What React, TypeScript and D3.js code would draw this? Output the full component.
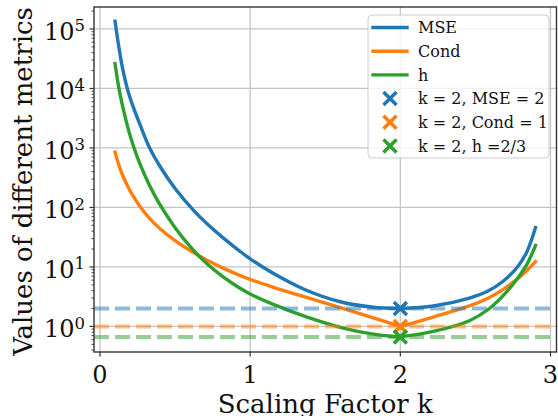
import * as d3 from "d3"

// scaling factor k, and what each metric reads off the chart
const kValues = [
  0.1, 0.125, 0.15, 0.19, 0.22, 0.27, 0.33, 0.4, 0.5, 0.62, 0.72, 0.82, 0.93,
  1.0, 1.15, 1.37, 1.6, 1.82, 2.0, 2.22, 2.46, 2.58, 2.68, 2.78, 2.84, 2.9,
]
const mseValues = [
  134900, 50700, 22000, 8360, 5000, 2340, 1007, 488, 208, 90.8, 51, 30.8, 18.5,
  13.7, 7.9, 4.1, 2.6, 2.1, 2.0, 2.21, 3.0, 3.9, 5.64, 10.0, 17.4, 45.7,
]
const condValues = [
  851, 519, 351, 213, 156, 101, 65.8, 44, 27.7, 17.6, 12.7, 9.55, 7.23, 6.17,
  4.6, 3.1, 2.08, 1.4, 1.0, 1.44, 2.21, 2.96, 4.13, 6.32, 8.57, 12.3,
]
const hValues = [
  26000, 10350, 5100, 1993, 1124, 508, 234, 110, 45.8, 19.4, 10.9, 6.82, 4.43,
  3.52, 2.37, 1.46, 0.968, 0.744, 0.667, 0.825, 1.25, 1.89, 3.21, 6.4, 10.7, 22.9,
]

const seriesNames = ["MSE", "Cond", "h"]
const seriesColors = ["#1f77b4", "#ff7f0e", "#2ca02c"]
const seriesValues = [mseValues, condValues, hValues]

const optimumK = 2
const optimumValues = [2, 1, 2 / 3]
const optimumLabels = ["k = 2, MSE = 2", "k = 2, Cond = 1", "k = 2, h =2/3"]

const xTicks = [0, 1, 2, 3]
const yTickExponents = [0, 1, 2, 3, 4, 5]

const width = 558
const height = 416
const plot = { left: 94, right: 556.5, top: 7, bottom: 352 }
const font = "'DejaVu Serif', serif"

// X marker as two crossing strokes
const Cross = ({ cx, cy, color, r = 6.5 }) => (
  <g stroke={color} strokeWidth={3.6}>
    <line x1={cx - r} y1={cy - r} x2={cx + r} y2={cy + r} />
    <line x1={cx - r} y1={cy + r} x2={cx + r} y2={cy - r} />
  </g>
)

export default function App() {
  const x = d3.scaleLinear().domain([-0.04, 3.04]).range([plot.left, plot.right])
  const y = d3
    .scaleLog()
    .domain([0.372, 234000])
    .range([plot.bottom, plot.top])

  const line = d3
    .line<[number, number]>()
    .x((d) => x(d[0]))
    .y((d) => y(d[1]))
    .curve(d3.curveCatmullRom.alpha(0.5))

  // Cond has a corner at k = 2, so each branch is drawn smooth and then joined
  const pathFor = (values) => {
    const pts = kValues.map((k, i) => [k, values[i]] as [number, number])
    const split = kValues.indexOf(optimumK)
    const left = line(pts.slice(0, split + 1))
    const right = line(pts.slice(split)).replace(/^M/, "L")
    return left + right
  }

  const minorTicks = []
  for (let e = -1; e <= 5; e++) {
    for (let m = 2; m <= 9; m++) {
      const v = m * Math.pow(10, e)
      if (v >= 0.372 && v <= 234000) minorTicks.push(v)
    }
  }

  const legendRows = [27.5, 51.2, 74.9, 98.6, 122.3, 146]

  return (
    <div style={{ position: "fixed", left: 0, top: 0 }}>
      <svg width={width} height={height} style={{ display: "block", fontFamily: font }}>
        <rect width={width} height={height} fill="#fff" />

        {/* grid */}
        <g stroke="#c4c4c4" strokeWidth={1.3}>
          {xTicks.map((t) => (
            <line key={t} x1={x(t)} x2={x(t)} y1={plot.top} y2={plot.bottom} />
          ))}
          {yTickExponents.map((e) => (
            <line
              key={e}
              x1={plot.left}
              x2={plot.right}
              y1={y(Math.pow(10, e))}
              y2={y(Math.pow(10, e))}
            />
          ))}
        </g>

        {/* curves */}
        {seriesValues.map((vals, i) => (
          <path
            key={seriesNames[i]}
            d={pathFor(vals)}
            fill="none"
            stroke={seriesColors[i]}
            strokeWidth={3.4}
            strokeLinecap="square"
            strokeLinejoin="round"
          />
        ))}

        {/* reference levels */}
        {optimumValues.map((v, i) => (
          <line
            key={i}
            x1={plot.left}
            x2={plot.right}
            y1={y(v)}
            y2={y(v)}
            stroke={seriesColors[i]}
            strokeOpacity={0.5}
            strokeWidth={4}
            strokeDasharray="15 6"
          />
        ))}

        {/* optimum markers */}
        {optimumValues.map((v, i) => (
          <Cross key={i} cx={x(optimumK)} cy={y(v)} color={seriesColors[i]} />
        ))}

        {/* spines */}
        <rect
          x={plot.left}
          y={plot.top}
          width={plot.right - plot.left}
          height={plot.bottom - plot.top}
          fill="none"
          stroke="#333"
          strokeWidth={1.4}
        />

        {/* x axis */}
        {xTicks.map((t) => (
          <g key={t}>
            <line x1={x(t)} x2={x(t)} y1={plot.bottom} y2={plot.bottom + 4.5} stroke="#333" strokeWidth={1.2} />
            <text x={x(t)} y={382.5} textAnchor="middle" fontSize={24} fill="#111">
              {t}
            </text>
          </g>
        ))}
        <text x={(plot.left + plot.right) / 2} y={413} textAnchor="middle" fontSize={26} fill="#111">
          Scaling Factor k
        </text>

        {/* y axis */}
        {minorTicks.map((v) => (
          <line key={v} x1={plot.left - 2.5} x2={plot.left} y1={y(v)} y2={y(v)} stroke="#333" strokeWidth={0.9} />
        ))}
        {yTickExponents.map((e) => (
          <g key={e}>
            <line
              x1={plot.left - 4.5}
              x2={plot.left}
              y1={y(Math.pow(10, e))}
              y2={y(Math.pow(10, e))}
              stroke="#333"
              strokeWidth={1.2}
            />
            <text x={85} y={y(Math.pow(10, e)) + 11} textAnchor="end" fontSize={24} fill="#111">
              10
              <tspan dy={-8.5} fontSize={16.5}>
                {e}
              </tspan>
            </text>
          </g>
        ))}
        <text
          transform={`translate(32,${(plot.top + plot.bottom) / 2 + 2}) rotate(-90)`}
          textAnchor="middle"
          fontSize={26}
          fill="#111"
        >
          Values of different metrics
        </text>

        {/* legend */}
        <rect x={368} y={15} width={181} height={143} rx={4} fill="#fff" fillOpacity={0.8} stroke="#ccc" strokeWidth={1} />
        {seriesNames.map((name, i) => (
          <g key={name}>
            <line x1={373} x2={407} y1={legendRows[i]} y2={legendRows[i]} stroke={seriesColors[i]} strokeWidth={3.4} strokeLinecap="square" />
            <text x={418} y={legendRows[i] + 5.8} fontSize={16} fill="#111">
              {name}
            </text>
          </g>
        ))}
        {optimumLabels.map((label, i) => (
          <g key={label}>
            <Cross cx={390} cy={legendRows[i + 3]} color={seriesColors[i]} />
            <text x={418} y={legendRows[i + 3] + 5.8} fontSize={16} fill="#111">
              {label}
            </text>
          </g>
        ))}
      </svg>
    </div>
  )
}
